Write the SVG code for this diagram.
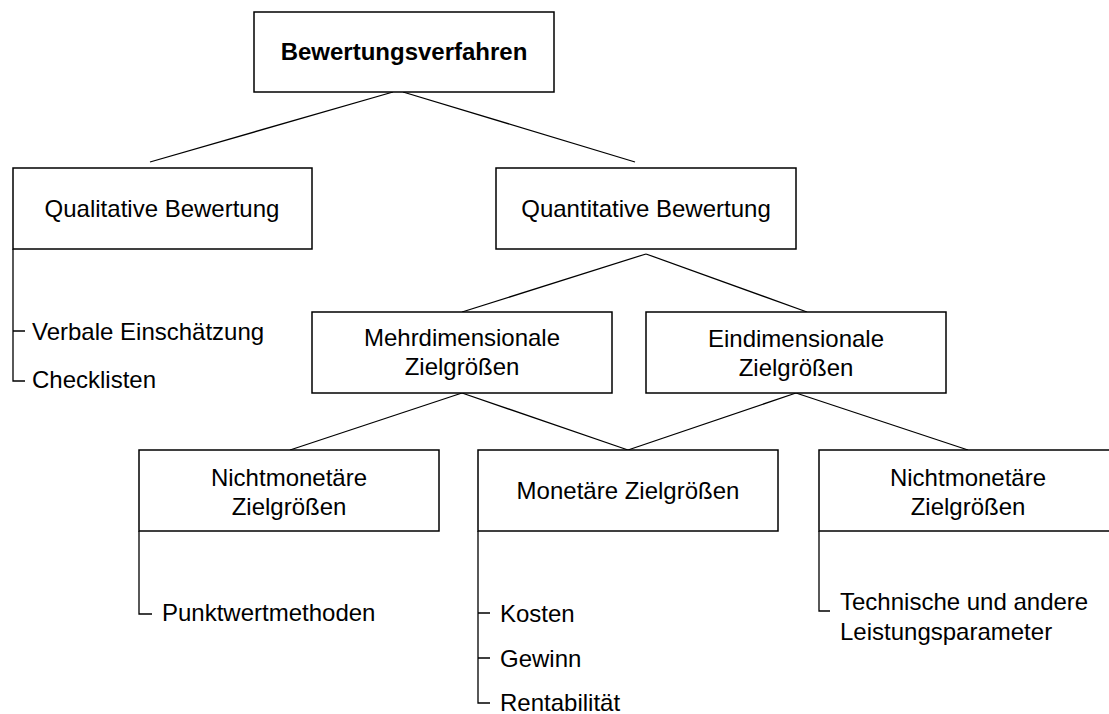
<svg xmlns="http://www.w3.org/2000/svg" width="1109" height="714" viewBox="0 0 1109 714">
<style>
.box{fill:#fff;stroke:#000;stroke-width:1.5}
.ln{fill:none;stroke:#000;stroke-width:1.3}
.t{font-family:"Liberation Sans",Arial,sans-serif;font-size:24px;fill:#000}
.c{text-anchor:middle}
.b{font-weight:bold}
</style>
<rect width="1109" height="714" fill="#fff"/>
<g id="connectors">
<line class="ln" x1="393" y1="92" x2="150" y2="162"/>
<line class="ln" x1="403" y1="92" x2="635" y2="162"/>
<line class="ln" x1="646" y1="254" x2="462" y2="312"/>
<line class="ln" x1="646" y1="254" x2="807" y2="312"/>
<line class="ln" x1="462" y1="393" x2="290" y2="450"/>
<line class="ln" x1="462" y1="393" x2="628" y2="450"/>
<line class="ln" x1="796" y1="393" x2="628" y2="450"/>
<line class="ln" x1="796" y1="393" x2="968" y2="450"/>
<path class="ln" d="M13,249 V381 H25 M13,331 H25"/>
<path class="ln" d="M139,531 V614 H152"/>
<path class="ln" d="M478,531 V703 H490 M478,613 H490 M478,658 H490"/>
<path class="ln" d="M819,531 V611 H830"/>
</g>
<g id="bewertungsverfahren">
<rect class="box" x="254" y="12" width="300" height="80"/>
<text class="t c b" x="404" y="60">Bewertungsverfahren</text>
</g>
<g id="qualitative">
<rect class="box" x="13" y="168" width="299" height="81"/>
<text class="t c" x="162" y="217">Qualitative Bewertung</text>
</g>
<g id="quantitative">
<rect class="box" x="496" y="168" width="300" height="81"/>
<text class="t c" x="646" y="217">Quantitative Bewertung</text>
</g>
<g id="mehrdimensionale">
<rect class="box" x="312" y="312" width="300" height="81"/>
<text class="t c" x="462" y="346">Mehrdimensionale</text>
<text class="t c" x="462" y="375">Zielgrößen</text>
</g>
<g id="eindimensionale">
<rect class="box" x="646" y="312" width="300" height="81"/>
<text class="t c" x="796" y="347">Eindimensionale</text>
<text class="t c" x="796" y="376">Zielgrößen</text>
</g>
<g id="nichtmonetaer-links">
<rect class="box" x="139" y="450" width="300" height="81"/>
<text class="t c" x="289" y="486">Nichtmonetäre</text>
<text class="t c" x="289" y="515">Zielgrößen</text>
</g>
<g id="monetaer">
<rect class="box" x="478" y="450" width="300" height="81"/>
<text class="t c" x="628" y="499">Monetäre Zielgrößen</text>
</g>
<g id="nichtmonetaer-rechts">
<rect class="box" x="819" y="450" width="300" height="81"/>
<text class="t c" x="968" y="486">Nichtmonetäre</text>
<text class="t c" x="968" y="515">Zielgrößen</text>
</g>
<g id="qualitative-items">
<text class="t" x="32" y="340">Verbale Einschätzung</text>
<text class="t" x="32" y="388">Checklisten</text>
</g>
<g id="nichtmonetaer-links-items">
<text class="t" x="162" y="621">Punktwertmethoden</text>
</g>
<g id="monetaer-items">
<text class="t" x="500" y="622">Kosten</text>
<text class="t" x="500" y="667">Gewinn</text>
<text class="t" x="500" y="711">Rentabilität</text>
</g>
<g id="nichtmonetaer-rechts-items">
<text class="t" x="840" y="610">Technische und andere</text>
<text class="t" x="840" y="640">Leistungsparameter</text>
</g>
</svg>
